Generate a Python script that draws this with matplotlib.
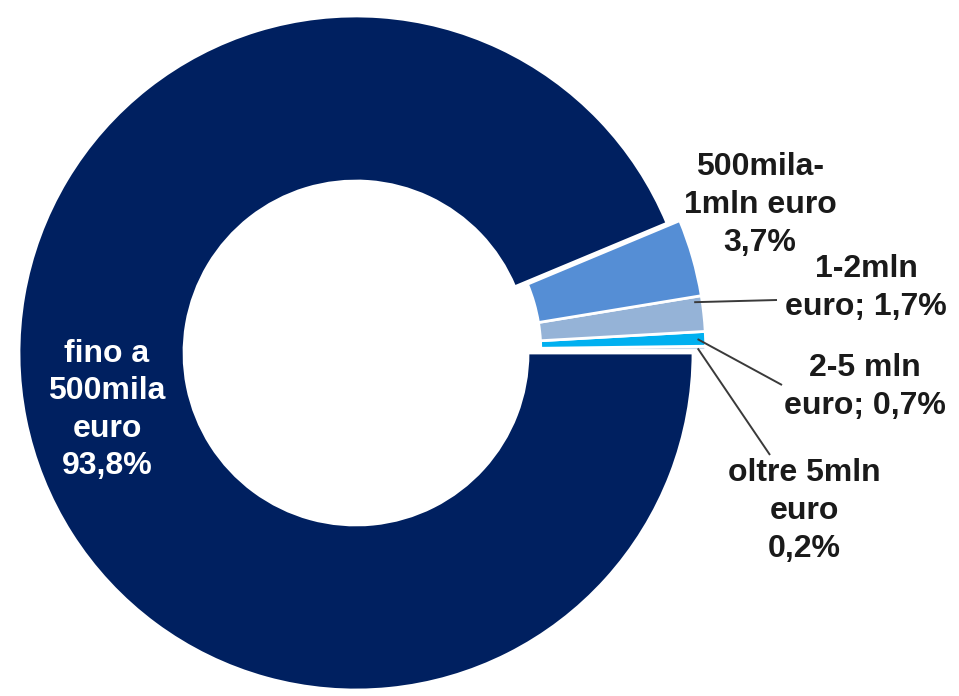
import matplotlib
matplotlib.use('Agg')
import matplotlib.pyplot as plt
import numpy as np

# ---- data ----
categories = ['oltre 5mln\neuro\n0,2%', '2-5 mln\neuro; 0,7%', '1-2mln\neuro; 1,7%',
              '500mila-\n1mln euro\n3,7%', 'fino a\n500mila\neuro\n93,8%']
values = [0.2, 0.7, 1.7, 3.7, 93.8]
colors = ['#C5D9EC', '#00B0F0', '#95B3D7', '#558ED5', '#002060']

# ---- layout (pixel coordinates, y measured from top) ----
W, H = 959, 696
label_pos = [(804, 511), (865, 387), (866, 288), (760, 205), (107, 410)]
leader_end = {0: (770, 455), 1: (782, 385), 2: (777, 300)}
leader_frac = {0: 0.5, 1: 0.5, 2: 0.85}
label_colors = ['#1a1a1a', '#1a1a1a', '#1a1a1a', '#1a1a1a', 'white']

fig = plt.figure(figsize=(W / 100, H / 100), dpi=100)
ax = fig.add_axes([0, 0, 1, 1])

cx, cy = 356, H - 353
R = 337
ring = 165
explode_px = 13

wedges, _ = ax.pie(values, colors=colors, startangle=0, counterclock=True,
                   center=(cx, cy), radius=R, frame=True,
                   wedgeprops=dict(width=ring, edgecolor='white', linewidth=2))

# explode the small slices together as a group
small = wedges[:4]
g_mid = np.deg2rad((small[0].theta1 + small[-1].theta2) / 2)
dx, dy = explode_px * np.cos(g_mid), explode_px * np.sin(g_mid)
for w in small:
    w.set_center((cx + dx, cy + dy))

ax.set_xlim(0, W)
ax.set_ylim(0, H)
ax.set_aspect('equal')
ax.axis('off')

# leader lines
for i, (ex, ey) in leader_end.items():
    w = wedges[i]
    f = leader_frac[i]
    a = np.deg2rad(w.theta1 + f * (w.theta2 - w.theta1))
    sx = cx + dx + (R - 8) * np.cos(a)
    sy = cy + dy + (R - 8) * np.sin(a)
    ax.plot([sx, ex], [sy, H - ey], color='#3a3a3a', lw=1.4, solid_capstyle='butt')

for txt, (px, py), c in zip(categories, label_pos, label_colors):
    ax.text(px, H - py, txt, ha='center', va='center', multialignment='center',
            fontsize=23, fontweight='bold', family='Liberation Sans', color=c,
            linespacing=1.33)

fig.savefig('out.png', dpi=100, facecolor='white')
